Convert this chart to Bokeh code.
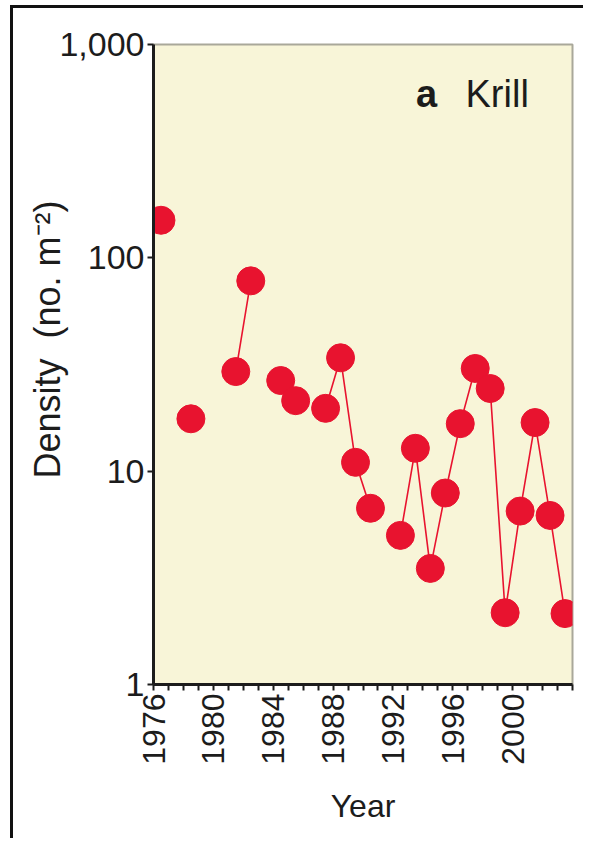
import math
from bokeh.plotting import figure
from bokeh.models import FixedTicker, Label
from bokeh.embed import file_html
from bokeh.resources import INLINE

# ---- data ----
seasons = [1976.5, 1978.5, 1981.5, 1982.5, 1984.5, 1985.5, 1987.5, 1988.5,
           1989.5, 1990.5, 1992.5, 1993.5, 1994.5, 1995.5, 1996.5, 1997.5,
           1998.5, 1999.5, 2000.5, 2001.5, 2002.5, 2003.5]
density = [150, 17.6, 29.3, 78, 26.6, 21.4, 19.7, 34, 11, 6.7, 5.0, 12.8,
           3.5, 7.9, 16.7, 30.3, 24.4, 2.17, 6.5, 16.9, 6.2, 2.15]
x_ticks = list(range(1976, 2005))
x_labelled = [1976, 1980, 1984, 1988, 1992, 1996, 2000]
y_ticks = [1, 10, 100, 1000]
y_tick_labels = ["1", "10", "100", "1,000"]

FONT = "Liberation Sans"
RED = "#e8132f"
INK = "#1c1c1c"

# line broken where a season is missing
lx, ly = [], []
for i, (s, d) in enumerate(zip(seasons, density)):
    if i > 0 and s - seasons[i - 1] > 1.01:
        lx.append(float("nan")); ly.append(float("nan"))
    lx.append(s); ly.append(d)

p = figure(width=570, height=830, y_axis_type="log",
           x_range=(1976, 2004), y_range=(1, 1000),
           output_backend="svg", toolbar_location=None,
           min_border_left=140, min_border_top=36,
           min_border_right=11, min_border_bottom=154,
           frame_width=419, frame_height=640)
p.styles = {"border-left": "3px solid #111111", "border-top": "3px solid #111111",
            "margin-left": "10px", "margin-top": "5px"}

p.background_fill_color = "#f8f5d8"
p.border_fill_color = "white"
p.outline_line_color = "#a9a89a"
p.outline_line_width = 2
p.grid.visible = False

p.line(lx, ly, line_color=RED, line_width=1.6)
p.scatter(seasons, density, size=28, fill_color=RED, line_color=RED,
          line_width=1)

# axes
for ax in (p.xaxis[0], p.yaxis[0]):
    ax.axis_line_color = INK
    ax.axis_line_width = 3
    ax.major_tick_line_color = INK
    ax.major_tick_line_width = 2
    ax.major_tick_out = 6
    ax.major_tick_in = 0
    ax.minor_tick_line_color = None
    ax.major_label_text_font = FONT
    ax.major_label_text_color = INK
    ax.axis_label_text_font = FONT
    ax.axis_label_text_color = INK
    ax.axis_label_text_font_style = "normal"
    ax.major_label_standoff = 3

xa = p.xaxis[0]
xa.ticker = FixedTicker(ticks=x_ticks)
xa.major_label_overrides = {t: (str(t) if t in x_labelled else "") for t in x_ticks}
xa.major_label_orientation = math.pi / 2
xa.major_label_text_font_size = "32px"
xa.axis_label = "Year"
xa.axis_label_text_font_size = "32px"
xa.axis_label_standoff = 20

ya = p.yaxis[0]
ya.ticker = FixedTicker(ticks=y_ticks)
ya.major_label_overrides = dict(zip(y_ticks, y_tick_labels))
ya.major_label_text_font_size = "34px"
ya.axis_label = "\u00a0\u00a0\u00a0\u00a0\u00a0Density\u00a0\u00a0(no.\u00a0m\u207b\u00b2)"
ya.axis_label_text_font_size = "36px"
ya.axis_label_standoff = -12

p.add_layout(Label(x=1993.55, y=583, text="a", text_font=FONT,
                   text_font_style="bold", text_font_size="38px",
                   text_color=INK, text_baseline="alphabetic"))
p.add_layout(Label(x=1996.85, y=583, text="Krill", text_font=FONT,
                   text_font_size="38px", text_color=INK,
                   text_baseline="alphabetic"))

open("out.html", "w").write(file_html(p, INLINE))
